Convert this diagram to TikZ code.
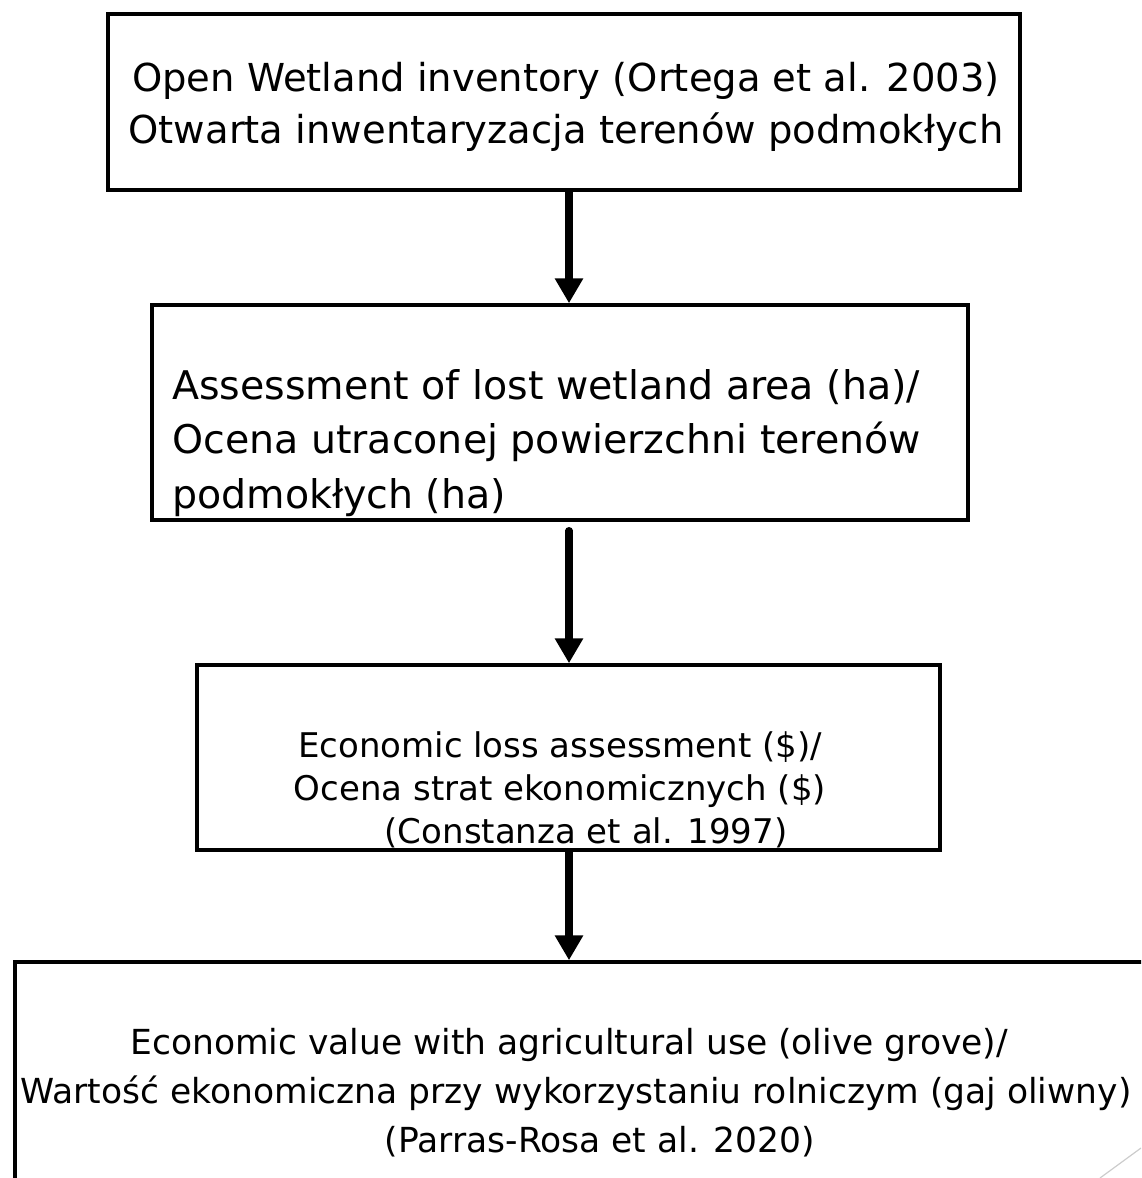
\documentclass[tikz,border=0pt]{standalone}
\usepackage{fontspec}
\setmainfont{DejaVu Sans}
\usetikzlibrary{arrows.meta}
\begin{document}
\begin{tikzpicture}[x=1pt,y=-1pt,
  box/.style={draw=black, line width=3.5pt, inner sep=0pt},
  lbl/.style={inner sep=0pt, text=black},
  flow/.style={line width=7.5pt, line cap=round, -{Triangle[width=27pt,length=25pt]}}]
\useasboundingbox (0,0) rectangle (1141,1178);
\clip (0,0) rectangle (1141,1178);
\coordinate (ax) at (569,0);
% boxes
\node[box, minimum width=912pt, minimum height=176pt] (b1) at (564,102) {};
\node[box, minimum width=816pt, minimum height=215pt] (b2) at (560,412.5) {};
\node[box, minimum width=743pt, minimum height=185pt] (b3) at (568.5,757.5) {};
\node[box, minimum width=1145pt, minimum height=240pt] (b4) at (587.5,1082) {};
% texts
\node[lbl, align=center, font=\fontsize{38.5}{52}\selectfont] (t1) at (566,107)
  {Open Wetland inventory (Ortega et al. 2003)\\Otwarta inwentaryzacja terenów podmokłych};
\node[lbl, align=left, anchor=west, font=\fontsize{39.5}{54.5}\selectfont] (t2) at (172,443)
  {Assessment of lost wetland area (ha)/\\Ocena utraconej powierzchni terenów\\podmokłych (ha)};
\node[lbl, align=center, font=\fontsize{34}{43}\selectfont] (t3) at (560,790)
  {Economic loss assessment (\$)/\\Ocena strat ekonomicznych (\$)\\\hspace*{52pt}(Constanza et al. 1997)};
\node[lbl, align=center, font=\fontsize{34.5}{49}\selectfont] (t4) at (576,1093)
  {Economic value with agricultural use (olive grove)/\hspace*{14pt}\\Wartość ekonomiczna przy wykorzystaniu rolniczym (gaj oliwny)\\\hspace*{48pt}(Parras-Rosa et al. 2020)};
% connectors
\draw[flow] (b1.south -| ax) -- (b2.north -| ax);
\draw[flow] ([yshift=-9pt]b2.south -| ax) -- (b3.north -| ax);
\draw[flow] (b3.south -| ax) -- (b4.north -| ax);
% decorative corner line
\coordinate (d1) at (1100,1178);
\coordinate (d2) at (1141,1148);
\draw[black!20, line width=1.2pt] (d1) -- (d2);
\end{tikzpicture}
\end{document}
